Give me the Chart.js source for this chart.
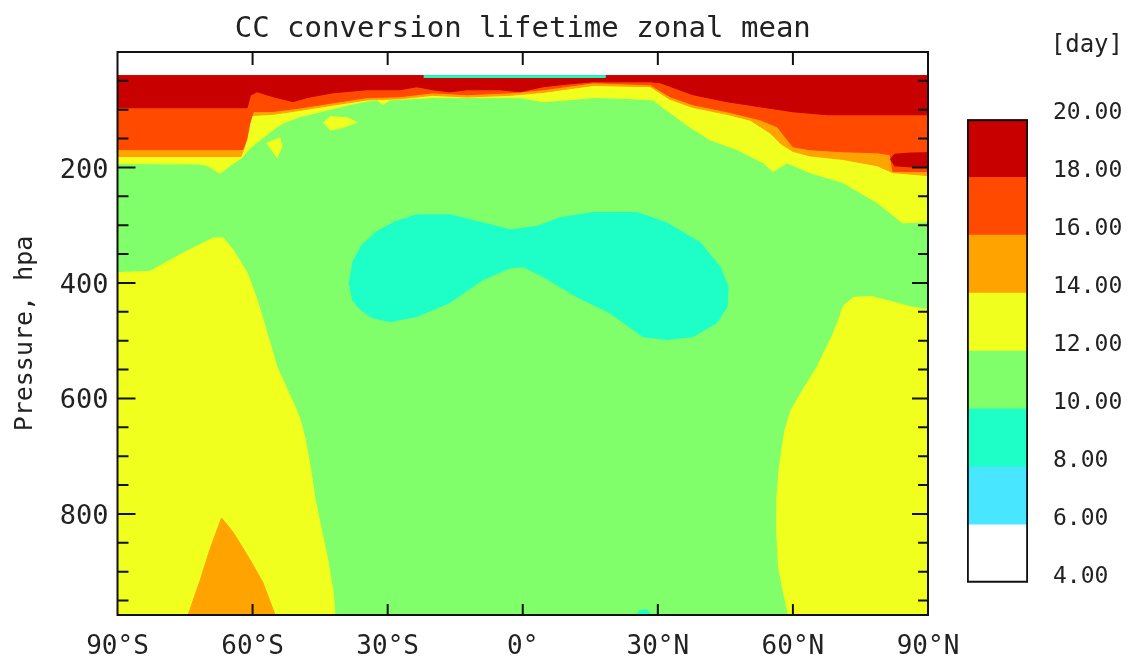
<!DOCTYPE html>
<html><head><meta charset="utf-8">
<script src="https://cdn.jsdelivr.net/npm/chart.js@4.4.0/dist/chart.umd.min.js"></script>
<style>
html,body{margin:0;padding:0;background:#fff;width:1138px;height:664px;overflow:hidden}
#main{position:absolute;left:0;top:0}
#bar{position:absolute;left:940px;top:0}
</style></head><body>
<canvas id="main" width="1138" height="664"></canvas>
<canvas id="bar" width="183" height="664"></canvas>
<script>
// ---- contour levels & colours ----
const levels = [4, 6, 8, 10, 12, 14, 16, 18, 20];
const levelColors = ['#ffffff', '#48e6ff', '#1effc8', '#80ff6a', '#f0ff1e', '#ffa300', '#ff4a00', '#c80000'];
// ---- axes ----
const latTicks = [-90, -60, -30, 0, 30, 60, 90];
const latLabels = ['90°S', '60°S', '30°S', '0°', '30°N', '60°N', '90°N'];
const pressureLabels = [200, 400, 600, 800];
const pressureMinorStep = 50;
const P_TOP = 0, P_BOTTOM = 975, DATA_TOP = 41;

// ---- contour boundaries, [latitude, pressure hPa] ----
const greenBase = [[-90, DATA_TOP], [90, DATA_TOP], [90, P_BOTTOM], [-90, P_BOTTOM]];
const yellowTopEdge = [[-90,193],[-72,194],[-70.2,196],[-67.2,210],[-64.3,193],[-62.5,184],[-60.5,166],[-58.3,152],[-55.5,135],[-53.2,123],[-49.5,112],[-45.7,105],[-42,98],[-38.4,91],[-34.5,85],[-32.4,83],[-31,91],[-29.5,83],[-20,79],[-10,79],[-0.6,79],[4.5,86],[10,83],[15.6,79],[22,80],[28.9,83],[32.7,105],[37.1,130],[41.6,152],[47.6,169],[53.4,192],[55.6,207],[58.7,192],[63.8,209],[71.1,226],[78.7,261],[84.4,296],[90,294]];
const orangeTopEdge = [[-90,181],[-62.6,181],[-61.8,165],[-61,135],[-60.2,110],[-55.5,108],[-49.4,101],[-42.1,92],[-34.6,83],[-27.3,81],[-20,75],[-12.4,78],[-2.8,75],[4.5,70],[15.6,58],[28.3,60],[32.7,82],[37.8,96],[45.4,108],[50.5,118],[54.9,140],[57.5,160],[60,172],[63.8,180],[71.1,186],[78.7,197],[82.2,209],[90,214]];
const redTopEdge = [[-90,169],[-62.2,169],[-61.3,152],[-60.6,123],[-59.8,103],[-55.5,103],[-49.4,97],[-42.1,88],[-34.6,79],[-27.3,77.5],[-20,70.6],[-12.4,74],[-2.8,70.6],[4.5,65.4],[15.6,53.3],[28.3,56.8],[32.7,77.5],[37.8,91.4],[45.4,103.5],[52.7,117.4],[56.5,129.5],[60,164],[63.8,169.3],[71.1,172.8],[78.7,174.5],[81.6,178],[82.2,207],[90,207]];
const darkRedTopEdge = [[-90,96.6],[-61.2,96.6],[-60.5,75],[-59,69],[-55.4,77.5],[-51,86],[-47.9,79],[-42.1,70.6],[-34.6,65.4],[-27.3,65.4],[-23.5,60.2],[-20,65.4],[-16.2,69],[-12.4,65.4],[-5.1,65.4],[-0.6,69],[4.5,60.2],[10.5,55],[15.6,51.6],[28.3,51.6],[30.5,53.3],[37.8,74],[45.4,86.2],[52.7,94.9],[60,103.5],[67.6,108.7],[90,108.7]];
const yellowSouthLow = [[-90,975],[-90,382],[-82.8,380],[-75.4,348],[-68.7,322],[-66.5,322],[-64.3,343],[-61.2,382],[-59,429],[-56.8,486],[-54.6,545],[-52,590],[-50.8,610],[-49.4,637],[-48.3,671],[-47.2,718],[-46.1,775],[-44.6,832],[-43.3,879],[-42.1,936],[-41.7,975]];
const yellowNorthLow = [[70.5,455],[71.2,440],[73.4,425],[77.2,423],[82.2,433],[86,441],[90,446],[90,975],[59,975],[57.9,936],[56.8,891],[56.4,832],[56.4,775],[57,718],[58.2,655],[59.6,620],[62.2,585],[65.4,545],[68.3,498]];
const yellowIslandA = [[-44.3,123],[-42.8,112],[-39,114],[-36.8,122],[-40.6,132],[-42.8,135]];
const yellowIslandB = [[-56.9,158],[-53.9,149],[-53.5,164],[-54.6,184]];
const orangeSouthLow = [[-74.3,975],[-71.6,914],[-69.5,862],[-66.9,807],[-64.3,832],[-60.6,879],[-57.7,919],[-55,975]];
const darkRedBlob = [[81.6,186],[82.6,177],[86,175],[90,174.5],[90,199],[86,199],[82.5,197]];
const cyanBlob = [[-38.6,403],[-37.7,363],[-35.7,334],[-32.4,311],[-28.4,294],[-23.5,282],[-16.2,282],[-8.8,296],[-2.8,308],[3.1,302],[8.3,287],[15.6,278],[25.4,278],[32,296],[39.4,330],[43.8,372],[45.6,406],[45.4,441],[43.1,469],[37.8,493],[32,498],[26.7,493],[19.4,452],[12,424],[4.5,389],[0.1,372],[-2.8,374],[-8.8,394],[-16.2,434],[-23.5,458],[-29.5,467],[-33.5,460],[-36.1,446],[-37.9,429]];
const cyanTopStrip = [[-22,DATA_TOP],[18.3,DATA_TOP],[18.3,44],[-22,44]];
const cyanBottomSpot = [[25.2,975],[26,967],[27.6,966],[28.6,975]];

function topRegion(edge) { return [[-90, DATA_TOP], [90, DATA_TOP], ...edge.slice().reverse()]; }

// layers from bottom to top: [polygon, colour index]
const layers = [
  [greenBase, 3],
  [topRegion(yellowTopEdge), 4],
  [yellowSouthLow, 4],
  [yellowNorthLow, 4],
  [yellowIslandA, 4],
  [yellowIslandB, 4],
  [orangeSouthLow, 5],
  [topRegion(orangeTopEdge), 5],
  [topRegion(redTopEdge), 6],
  [topRegion(darkRedTopEdge), 7],
  [darkRedBlob, 7],
  [cyanBlob, 2],
  [cyanTopStrip, 2],
  [cyanBottomSpot, 2]
];

const datasets = layers.map(([poly, ci], i) => ({
  data: poly.map(([x, y]) => ({x, y})),
  showLine: true,
  fill: 'shape',
  backgroundColor: levelColors[ci],
  borderColor: levelColors[ci],
  borderWidth: 1,
  pointRadius: 0,
  tension: 0,
  order: layers.length - i
}));

Chart.defaults.font.family = "'DejaVu Sans Mono', monospace";
Chart.defaults.color = '#222';

const framePlugin = {
  id: 'frame',
  afterDatasetsDraw(chart) {
    const {ctx, chartArea: a, scales: {x, y}} = chart;
    ctx.save();
    ctx.strokeStyle = '#111';
    ctx.lineWidth = 2;
    ctx.beginPath();
    latTicks.slice(1, -1).forEach(v => {
      const px = x.getPixelForValue(v);
      ctx.moveTo(px, a.top); ctx.lineTo(px, a.top + 13);
      ctx.moveTo(px, a.bottom); ctx.lineTo(px, a.bottom - 11);
    });
    for (let p = pressureMinorStep; p < P_BOTTOM; p += pressureMinorStep) {
      const py = y.getPixelForValue(p);
      const major = pressureLabels.includes(p);
      ctx.moveTo(a.left, py); ctx.lineTo(a.left + (major ? 18 : 11), py);
      ctx.moveTo(a.right, py); ctx.lineTo(a.right - (major ? 16 : 10), py);
    }
    ctx.stroke();
    ctx.strokeRect(a.left, a.top, a.width, a.height);
    ctx.restore();
  }
};

new Chart(document.getElementById('main'), {
  type: 'scatter',
  data: {datasets},
  options: {
    responsive: false, animation: false, events: [],
    layout: {padding: {left: 0, right: 210, top: 0, bottom: 0}},
    plugins: {
      legend: {display: false}, tooltip: {enabled: false},
      title: {display: true, fullSize: false, text: 'CC conversion lifetime zonal mean', font: {size: 29, weight: 'normal'}, color: '#222', padding: {top: 12, bottom: 5.2}}
    },
    scales: {
      x: {
        type: 'linear', min: -90, max: 90,
        afterBuildTicks: s => { s.ticks = latTicks.map(v => ({value: v})); },
        ticks: {callback: v => { const i = latTicks.indexOf(v); return i >= 0 ? latLabels[i] : ''; }, font: {size: 26}, color: '#222', padding: 17, maxRotation: 0, autoSkip: false},
        grid: {display: false, drawTicks: false}, border: {display: false},
        afterFit: s => { s.height = 49; }
      },
      y: {
        type: 'linear', reverse: true, min: P_TOP, max: P_BOTTOM,
        afterBuildTicks: s => { s.ticks = pressureLabels.map(v => ({value: v})); },
        ticks: {font: {size: 27}, color: '#222', padding: 9, labelOffset: 3},
        grid: {display: false, drawTicks: false}, border: {display: false},
        title: {display: true, text: 'Pressure, hpa', font: {size: 25}, color: '#222', padding: {top: 10, bottom: 0}},
        afterFit: s => { s.width = 117.5; }
      }
    }
  },
  plugins: [framePlugin]
});

// ---- colour bar ----
const barDatasets = [
  {data: [[levels[0], levels[levels.length - 1]]], backgroundColor: 'rgba(0,0,0,0)', borderColor: '#111', borderWidth: 1.5, borderSkipped: false},
  ...levelColors.map((c, i) => ({data: [[levels[i], levels[i + 1]]], backgroundColor: c, borderWidth: 0}))
];
new Chart(document.getElementById('bar'), {
  type: 'bar',
  data: {labels: [''], datasets: barDatasets},
  options: {
    responsive: false, animation: false, events: [],
    layout: {padding: {left: 27, right: 0, top: 0, bottom: 81.3}},
    datasets: {bar: {grouped: false, barPercentage: 1, categoryPercentage: 1}},
    plugins: {
      legend: {display: false}, tooltip: {enabled: false},
      title: {display: true, text: '[day]', align: 'end', font: {size: 24, weight: 'normal'}, color: '#222', padding: {top: 31.6, bottom: 58.9}}
    },
    scales: {
      x: {display: false},
      y: {
        position: 'right', min: levels[0], max: levels[levels.length - 1],
        afterBuildTicks: s => { s.ticks = levels.map(v => ({value: v})); },
        ticks: {callback: v => v.toFixed(2), font: {size: 23}, color: '#222', padding: 25, labelOffset: -6},
        grid: {display: false, drawTicks: false}, border: {display: false},
        afterFit: s => { s.width = 95; }
      }
    }
  }
});
</script>
</body></html>
